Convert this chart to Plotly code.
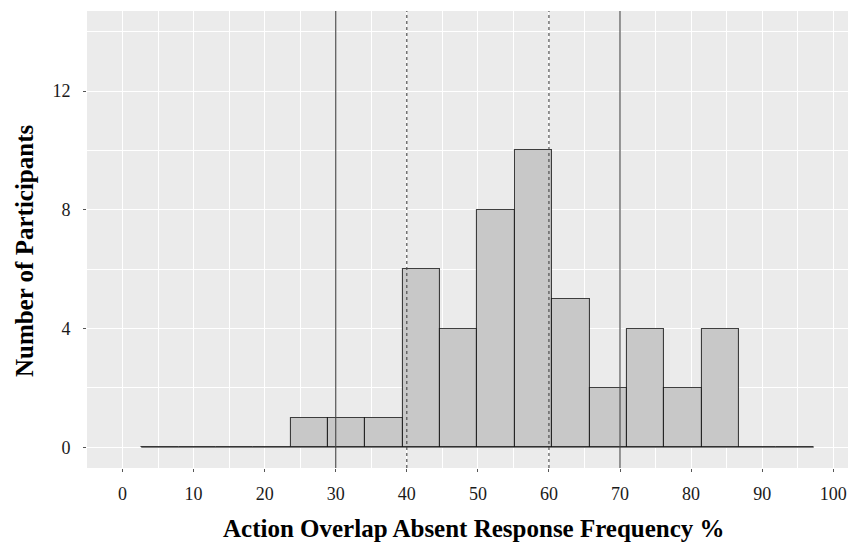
import plotly.graph_objects as go

# Histogram data
bin_start = 2.63
bin_width = 5.257
counts = [0, 0, 0, 0, 1, 1, 1, 6, 4, 8, 10, 5, 2, 4, 2, 4, 0, 0]

solid_lines = [30, 70]
dashed_lines = [40, 60]

x_ticks = [0, 10, 20, 30, 40, 50, 60, 70, 80, 90, 100]
y_ticks = [0, 4, 8, 12]

x_title = "Action Overlap Absent Response Frequency %"
y_title = "Number of Participants"

edges = [bin_start + i * bin_width for i in range(len(counts) + 1)]
centers = [(edges[i] + edges[i + 1]) / 2 for i in range(len(counts))]

fig = go.Figure()

# baseline outline spanning all bins (zero-height bins)
fig.add_trace(go.Scatter(
    x=[edges[0], edges[-1]], y=[0, 0], mode="lines",
    line=dict(color="rgba(0,0,0,0.7)", width=1), showlegend=False, hoverinfo="skip"))

fig.add_trace(go.Bar(
    x=centers, y=counts, width=[bin_width] * len(counts),
    marker=dict(color="#c8c8c8", line=dict(color="rgba(0,0,0,0.72)", width=1.1)),
    showlegend=False))

for v in solid_lines:
    fig.add_shape(type="line", xref="x", yref="paper", x0=v, x1=v, y0=0, y1=1,
                  line=dict(color="#444444", width=1.1))
for v in dashed_lines:
    fig.add_shape(type="line", xref="x", yref="paper", x0=v, x1=v, y0=0, y1=1,
                  line=dict(color="#444444", width=1.1, dash="3px,3px"))

serif = "Liberation Serif, Times New Roman, serif"

fig.update_layout(
    width=848, height=543,
    margin=dict(l=87, r=0, t=11, b=75, autoexpand=False),
    paper_bgcolor="white", plot_bgcolor="#ebebeb",
    bargap=0,
    font=dict(family=serif, color="#1a1a1a"),
    xaxis=dict(
        range=[-5, 102.08], tickvals=x_ticks, ticktext=[str(t) for t in x_ticks],
        showgrid=True, gridcolor="white", gridwidth=1.3, zeroline=False,
        ticks="outside", ticklen=3, tickcolor="#555555", tickwidth=1,
        ticklabelstandoff=6,
        tickfont=dict(size=18, family=serif, color="#1a1a1a"),
        minor=dict(dtick=5, tick0=5, showgrid=True, gridcolor="white", gridwidth=0.6),
        showline=False, automargin=False,
    ),
    yaxis=dict(
        range=[-0.7, 14.7], tickvals=y_ticks, ticktext=[str(t) for t in y_ticks],
        showgrid=True, gridcolor="white", gridwidth=1.3, zeroline=False,
        ticks="outside", ticklen=3, tickcolor="#555555", tickwidth=1,
        ticklabelstandoff=9,
        tickfont=dict(size=18, family=serif, color="#1a1a1a"),
        minor=dict(dtick=2, tick0=2, showgrid=True, gridcolor="white", gridwidth=0.6),
        showline=False, automargin=False,
    ),
    annotations=[
        dict(text="<b>" + x_title + "</b>", xref="paper", yref="paper",
             x=(474 - 87) / 761, y=-0.1313,
             xanchor="center", yanchor="middle", showarrow=False,
             font=dict(size=25, family=serif, color="black")),
        dict(text="<b>" + y_title + "</b>", xref="paper", yref="paper",
             x=-0.082, y=0.476,
             xanchor="center", yanchor="middle", textangle=-90, showarrow=False,
             font=dict(size=25, family=serif, color="black")),
    ],
)

fig.write_html(
    "out.html",
    config={"displayModeBar": False},
    post_script=("document.body.style.margin='0';"
                 "document.body.style.overflow='hidden';"
                 "document.documentElement.style.overflow='hidden';"),
)
